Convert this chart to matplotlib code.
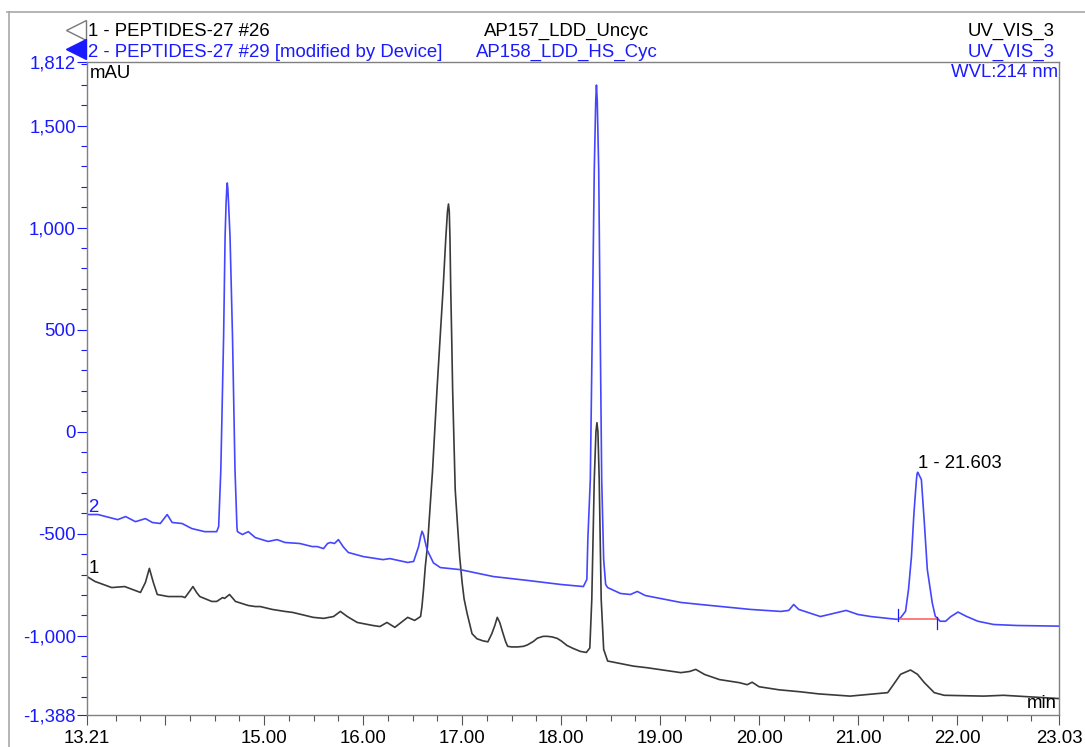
import numpy as np
import matplotlib
matplotlib.use("Agg")
import matplotlib.pyplot as plt
from matplotlib.lines import Line2D
from matplotlib.ticker import FixedLocator, FuncFormatter

plt.rcParams['font.family'] = ['Liberation Sans', 'DejaVu Sans']

# ---- trace 1 : AP157_LDD_Uncyc (black) ----
t1 = [13.21, 13.29, 13.46, 13.59, 13.75, 13.80, 13.84, 13.88, 13.92, 14.03,
      14.17, 14.20, 14.25, 14.28, 14.32, 14.35, 14.47, 14.52, 14.58, 14.60,
      14.65, 14.71, 14.84, 14.91, 14.96, 15.08, 15.21, 15.29, 15.495, 15.60,
      15.70, 15.77, 15.84, 15.94, 16.10, 16.17, 16.24, 16.32, 16.45, 16.52,
      16.58, 16.594, 16.61, 16.628, 16.65, 16.688, 16.70, 16.746, 16.78, 16.807,
      16.835, 16.852, 16.862, 16.870, 16.877, 16.885, 16.895, 16.904, 16.93, 16.955,
      16.975, 17.00, 17.02, 17.05, 17.10, 17.15, 17.21, 17.26, 17.30, 17.33,
      17.355, 17.38, 17.41, 17.44, 17.46, 17.50, 17.56, 17.62, 17.66, 17.72,
      17.76, 17.82, 17.86, 17.91, 17.96, 18.00, 18.06, 18.12, 18.195, 18.255,
      18.29, 18.31, 18.335, 18.352, 18.362, 18.372, 18.385, 18.405, 18.43, 18.47,
      18.73, 18.87, 19.21, 19.30, 19.36, 19.45, 19.60, 19.80, 19.88, 19.93,
      20.00, 20.20, 20.42, 20.60, 20.92, 21.30, 21.36, 21.43, 21.53, 21.60,
      21.67, 21.77, 21.87, 22.27, 22.47, 23.03]
a1 = [-710, -734, -764, -759, -788, -739, -670, -739, -798, -808,
      -808, -813, -780, -759, -790, -808, -832, -832, -813, -817,
      -798, -832, -852, -857, -857, -871, -881, -886, -910, -915,
      -906, -881, -906, -935, -950, -955, -935, -959, -910, -925,
      -906, -857, -773, -660, -560, -284, -200, 206, 480, 695,
      950, 1080, 1116, 1080, 950, 695, 450, 206, -284, -470,
      -612, -740, -820, -890, -990, -1015, -1025, -1030, -990, -950,
      -910, -935, -984, -1030, -1052, -1055, -1055, -1052, -1045, -1028,
      -1012, -1003, -1003, -1006, -1013, -1025, -1048, -1062, -1077, -1082,
      -1060, -822, -235, 0, 44, 0, -235, -822, -1067, -1124,
      -1149, -1157, -1181, -1175, -1165, -1190, -1215, -1230, -1240, -1228,
      -1250, -1265, -1275, -1285, -1296, -1279, -1238, -1189, -1168, -1189,
      -1230, -1279, -1292, -1296, -1292, -1308]

# ---- trace 2 : AP158_LDD_HS_Cyc (blue) ----
t2 = [13.21, 13.32, 13.52, 13.60, 13.70, 13.80, 13.87, 13.95, 14.02, 14.07,
      14.17, 14.27, 14.40, 14.52, 14.54, 14.562, 14.59, 14.605, 14.615, 14.622,
      14.627, 14.633, 14.64, 14.655, 14.68, 14.705, 14.725, 14.73, 14.78, 14.84,
      14.91, 15.04, 15.13, 15.21, 15.36, 15.485, 15.535, 15.60, 15.64, 15.67,
      15.71, 15.75, 15.80, 15.85, 16.00, 16.20, 16.27, 16.45, 16.51, 16.56,
      16.58, 16.595, 16.61, 16.645, 16.71, 16.78, 16.98, 17.315, 17.66, 18.00,
      18.225, 18.26, 18.27, 18.295, 18.315, 18.335, 18.35, 18.357, 18.365, 18.38,
      18.395, 18.41, 18.43, 18.45, 18.47, 18.60, 18.70, 18.77, 18.85, 19.21,
      19.41, 19.91, 20.22, 20.30, 20.35, 20.40, 20.62, 20.75, 20.88, 21.00,
      21.13, 21.30, 21.40, 21.43, 21.48, 21.51, 21.54, 21.565, 21.59, 21.597,
      21.603, 21.61, 21.64, 21.67, 21.70, 21.75, 21.78, 21.83, 21.885, 21.935,
      22.01, 22.09, 22.21, 22.37, 22.61, 23.03]
a2 = [-406, -406, -431, -416, -441, -426, -445, -450, -406, -445,
      -450, -475, -490, -490, -465, -186, 465, 955, 1120, 1190,
      1219, 1190, 1120, 955, 465, -186, -470, -490, -504, -490,
      -519, -538, -529, -543, -548, -563, -563, -573, -548, -543,
      -548, -529, -565, -592, -612, -627, -622, -641, -636, -563,
      -515, -488, -505, -578, -643, -666, -676, -710, -729, -749,
      -759, -724, -529, -235, 499, 1282, 1625, 1699, 1625, 1282,
      499, -235, -627, -749, -764, -793, -798, -783, -803, -837,
      -847, -871, -881, -876, -847, -871, -906, -891, -876, -896,
      -906, -915, -920, -912, -880, -773, -610, -398, -235, -205,
      -199, -205, -235, -447, -676, -839, -904, -929, -929, -907,
      -884, -904, -929, -945, -950, -953]

# integration of peak 1 on trace 2
peak_rt = 21.603
base_t = [21.40, 21.80]
base_a = [-920, -920]

x_min, x_max = 13.21, 23.03
y_min, y_max = -1388, 1812
x_major = [13.21, 14.0, 15.0, 16.0, 17.0, 18.0, 19.0, 20.0, 21.0, 22.0, 23.03]
y_major = [-1388, -1000, -500, 0, 500, 1000, 1500, 1812]

blue = '#1a1aff'
fs = 13.4

fig = plt.figure(figsize=(10.85, 7.47), dpi=100)
ax = fig.add_axes([0.0802, 0.043, 0.8958, 0.874])

ax.plot(t1, a1, color='#3a3a3a', lw=1.2)
ax.plot(t2, a2, color='#4646ff', lw=1.2)

# baseline + delimiter ticks for peak 1
ax.plot(base_t, base_a, color='#ff6666', lw=1.2)
ax.plot([base_t[0], base_t[0]], [-871, -929], color=blue, lw=0.9)
ax.plot([base_t[1], base_t[1]], [-910, -969], color=blue, lw=0.9)
ax.annotate(f"1 - {peak_rt:.3f}", xy=(peak_rt, -199), xytext=(0, 0),
            textcoords='offset points', ha='left', va='bottom', fontsize=fs)

ax.set_xlim(x_min, x_max)
ax.set_ylim(y_min, y_max)

ax.xaxis.set_major_locator(FixedLocator(x_major))
ax.xaxis.set_major_formatter(FuncFormatter(lambda v, p: '' if abs(v - 14.0) < 1e-6 else f"{v:.2f}"))
ax.xaxis.set_minor_locator(FixedLocator(np.arange(13.5, 23.0, 0.25)))
ax.yaxis.set_major_locator(FixedLocator(y_major))
ax.yaxis.set_major_formatter(FuncFormatter(lambda v, p: f"{int(v):,}"))
ax.yaxis.set_minor_locator(FixedLocator(np.arange(-1300, 1801, 100)))

ax.tick_params(axis='both', which='major', direction='out', length=7, width=0.8, labelsize=fs)
ax.tick_params(axis='both', which='minor', direction='out', length=4, width=0.8)
ax.tick_params(axis='x', which='both', color='#555555', labelcolor='black', pad=4)
ax.tick_params(axis='y', which='both', color=blue, labelcolor=blue, pad=1)
for s in ax.spines.values():
    s.set_color('#808080')
    s.set_linewidth(1.0)

# axis units and trace numbers inside the plot
ax.text(0.003, 0.983, 'mAU', transform=ax.transAxes, ha='left', va='center', fontsize=fs)
ax.text(0.998, 0.018, 'min', transform=ax.transAxes, ha='right', va='center', fontsize=fs)
ax.text(0.999, 0.984, 'WVL:214 nm', transform=ax.transAxes, ha='right', va='center',
        fontsize=fs, color=blue)
ax.annotate('2', xy=(t2[0], a2[0]), xytext=(1, -1), textcoords='offset points',
            ha='left', va='bottom', fontsize=fs, color=blue)
ax.annotate('1', xy=(t1[0], a1[0]), xytext=(1, 0), textcoords='offset points',
            ha='left', va='bottom', fontsize=fs, color='black')

# header with sample names
r1, r2 = 0.958, 0.930
fig.add_artist(Line2D([0.0705], [0.960], transform=fig.transFigure, marker='<',
                      markersize=15, mfc='white', mec='#777777', mew=1.0, ls='none'))
fig.add_artist(Line2D([0.0705], [0.934], transform=fig.transFigure, marker='<',
                      markersize=15, mfc=blue, mec=blue, mew=1.0, ls='none'))
fig.text(0.0811, r1, '1 - PEPTIDES-27 #26', ha='left', va='center', fontsize=fs)
fig.text(0.0811, r2, '2 - PEPTIDES-27 #29 [modified by Device]', ha='left', va='center',
         fontsize=fs, color=blue)
fig.text(0.5226, r1, 'AP157_LDD_Uncyc', ha='center', va='center', fontsize=fs)
fig.text(0.5226, r2, 'AP158_LDD_HS_Cyc', ha='center', va='center', fontsize=fs, color=blue)
fig.text(0.9724, r1, 'UV_VIS_3', ha='right', va='center', fontsize=fs)
fig.text(0.9724, r2, 'UV_VIS_3', ha='right', va='center', fontsize=fs, color=blue)

# page frame
fig.add_artist(Line2D([0.0065, 1.0], [0.984, 0.984], transform=fig.transFigure,
                      color='#a8a8a8', lw=1.2))
fig.add_artist(Line2D([0.0083, 0.0083], [0.0, 0.984], transform=fig.transFigure,
                      color='#a8a8a8', lw=1.2))

fig.savefig('out.png', dpi=100)
